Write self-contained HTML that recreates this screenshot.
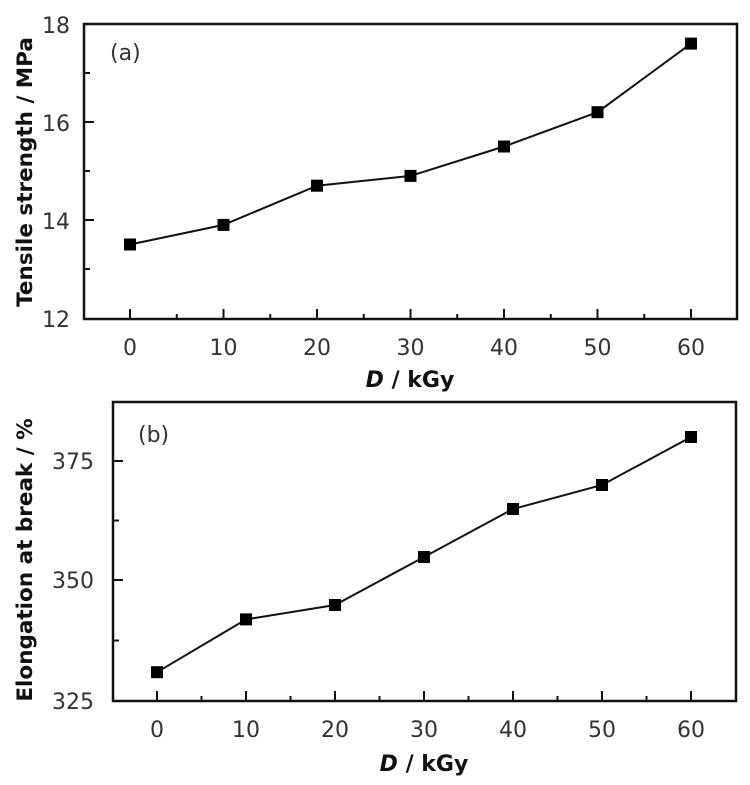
<!DOCTYPE html>
<html><head><style>body{margin:0;background:#fff}svg{display:block}</style></head><body>
<svg width="750" height="785" viewBox="0 0 750 785" xmlns="http://www.w3.org/2000/svg" font-family="DejaVu Sans, sans-serif">
<g stroke="#111" fill="none">
<rect x="84" y="24" width="653" height="295" stroke-width="2.5"/>
<rect x="113" y="402" width="623" height="299" stroke-width="2.5"/>
</g>
<g stroke="#111" stroke-width="2">
<path d="M130 319v-10M223.5 319v-10M317 319v-10M410.5 319v-10M504 319v-10M597.5 319v-10M691 319v-10M176.75 319v-5M270.25 319v-5M363.75 319v-5M457.25 319v-5M550.75 319v-5M644.25 319v-5"/>
<path d="M84 122h10M84 220h10M84 73h6M84 171h6M84 269h6"/>
<path d="M157 701v-10M246 701v-10M335 701v-10M424 701v-10M513 701v-10M602 701v-10M691 701v-10M201.5 701v-5M290.5 701v-5M379.5 701v-5M468.5 701v-5M557.5 701v-5M646.5 701v-5"/>
<path d="M113 461h10M113 580h10M113 520.5h6M113 640.5h6"/>
</g>
<g font-size="22" fill="#333" text-anchor="middle">
<text x="130" y="355">0</text><text x="223.5" y="355">10</text><text x="317" y="355">20</text><text x="410.5" y="355">30</text><text x="504" y="355">40</text><text x="597.5" y="355">50</text><text x="691" y="355">60</text>
<text x="157" y="737">0</text><text x="246" y="737">10</text><text x="335" y="737">20</text><text x="424" y="737">30</text><text x="513" y="737">40</text><text x="602" y="737">50</text><text x="691" y="737">60</text>
</g>
<g font-size="22" fill="#333" text-anchor="end">
<text x="70" y="33">18</text><text x="70" y="131">16</text><text x="70" y="229">14</text><text x="70" y="327">12</text>
<text x="94" y="469">375</text><text x="94" y="588">350</text><text x="94" y="709">325</text>
</g>
<text x="110" y="60" font-size="22" fill="#333">(a)</text>
<text x="138" y="442" font-size="22" fill="#333">(b)</text>
<text transform="translate(32,172) rotate(-90)" font-size="21.5" font-weight="bold" text-anchor="middle" fill="#111">Tensile strength / MPa</text>
<text transform="translate(32,560) rotate(-90)" font-size="21.5" font-weight="bold" text-anchor="middle" fill="#111">Elongation at break / %</text>
<text x="410" y="387" font-size="22" font-weight="bold" text-anchor="middle" fill="#111"><tspan font-style="italic">D</tspan> / kGy</text>
<text x="424" y="771" font-size="22" font-weight="bold" text-anchor="middle" fill="#111"><tspan font-style="italic">D</tspan> / kGy</text>
<polyline fill="none" stroke="#111" stroke-width="2" points="130,244.5 223.5,224.9 317,185.7 410.5,175.9 504,146.5 597.5,112.2 691,43.6"/>
<polyline fill="none" stroke="#111" stroke-width="2" points="157,672.2 246,619.4 335,605 424,557 513,509 602,485 691,437"/>
<g fill="#000">
<rect x="124" y="238.5" width="12" height="12"/><rect x="217.5" y="218.9" width="12" height="12"/><rect x="311" y="179.7" width="12" height="12"/><rect x="404.5" y="169.9" width="12" height="12"/><rect x="498" y="140.5" width="12" height="12"/><rect x="591.5" y="106.2" width="12" height="12"/><rect x="685" y="37.6" width="12" height="12"/>
<rect x="151" y="666.2" width="12" height="12"/><rect x="240" y="613.4" width="12" height="12"/><rect x="329" y="599" width="12" height="12"/><rect x="418" y="551" width="12" height="12"/><rect x="507" y="503" width="12" height="12"/><rect x="596" y="479" width="12" height="12"/><rect x="685" y="431" width="12" height="12"/>
</g>
</svg>
</body></html>
